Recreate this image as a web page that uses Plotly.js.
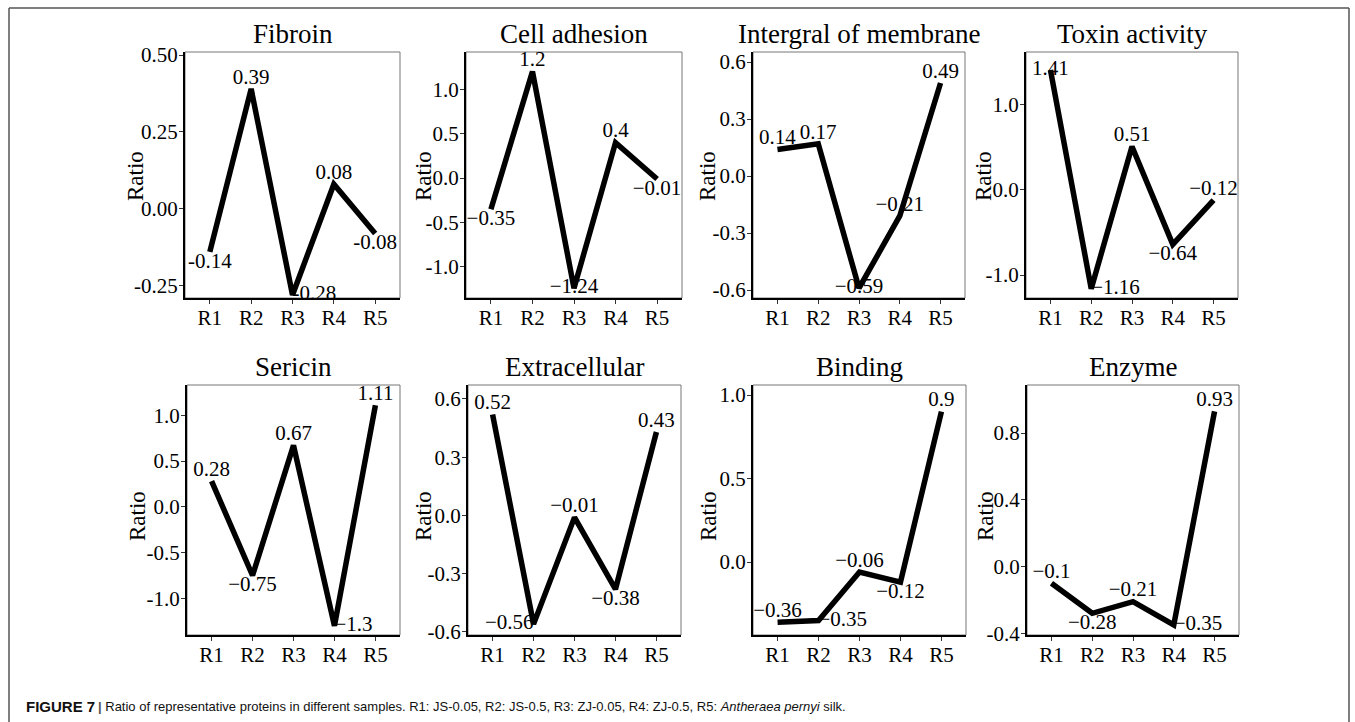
<!DOCTYPE html>
<html>
<head>
<meta charset="utf-8">
<script src="https://cdn.plot.ly/plotly-3.0.1.min.js"></script>
<style>html,body{margin:0;padding:0;background:#fff;}#chart{width:1355px;height:722px;}</style>
</head>
<body>
<div id="chart"></div>
<script>
// ---- data ----
const categories = ['R1', 'R2', 'R3', 'R4', 'R5'];
const panelTitles = ['Fibroin', 'Cell adhesion', 'Intergral of membrane', 'Toxin activity',
                     'Sericin', 'Extracellular', 'Binding', 'Enzyme'];
const fibroin          = [-0.14, 0.39, -0.28, 0.08, -0.08];
const cellAdhesion     = [-0.35, 1.2, -1.24, 0.4, -0.01];
const integralMembrane = [0.14, 0.17, -0.59, -0.21, 0.49];
const toxinActivity    = [1.41, -1.16, 0.51, -0.64, -0.12];
const sericin          = [0.28, -0.75, 0.67, -1.3, 1.11];
const extracellular    = [0.52, -0.56, -0.01, -0.38, 0.43];
const binding          = [-0.36, -0.35, -0.06, -0.12, 0.9];
const enzyme           = [-0.1, -0.28, -0.21, -0.35, 0.93];

const tickVals = [
  [0.5, 0.25, 0, -0.25],
  [1, 0.5, 0, -0.5, -1],
  [0.6, 0.3, 0, -0.3, -0.6],
  [1, 0, -1],
  [1, 0.5, 0, -0.5, -1],
  [0.6, 0.3, 0, -0.3, -0.6],
  [1, 0.5, 0],
  [0.8, 0.4, 0, -0.4]
];
const tickTexts = [
  ['0.50', '0.25', '0.00', '-0.25'],
  ['1.0', '0.5', '0.0', '-0.5', '-1.0'],
  ['0.6', '0.3', '0.0', '-0.3', '-0.6'],
  ['1.0', '0.0', '-1.0'],
  ['1.0', '0.5', '0.0', '-0.5', '-1.0'],
  ['0.6', '0.3', '0.0', '-0.3', '-0.6'],
  ['1.0', '0.5', '0.0'],
  ['0.8', '0.4', '0.0', '-0.4']
];
const series = [fibroin, cellAdhesion, integralMembrane, toxinActivity,
                sericin, extracellular, binding, enzyme];

// ---- layout / style (pixels) ----
const W = 1355, H = 722;
const px = v => v / W;
const py = v => 1 - v / H;
const boxes = [ // [left, right, top, bottom]
  [185, 400, 52, 298], [466, 682, 52, 298], [753, 965, 52, 298], [1026, 1238, 52, 298],
  [187, 400, 385, 635], [468, 681, 385, 635], [753, 966, 385, 635], [1027, 1239, 385, 635]
];
const yRanges = [
  [-0.29, 0.51], [-1.35, 1.42], [-0.642, 0.653], [-1.27, 1.62],
  [-1.40, 1.33], [-0.616, 0.672], [-0.437, 1.06], [-0.41, 1.088]
];
const labelPos = [
  ['bottom center', 'top center', 'middle right', 'top center', 'bottom center'],
  ['bottom center', 'top center', 'middle center', 'top center', 'bottom center'],
  ['top center', 'top center', 'middle center', 'top center', 'top center'],
  ['middle center', 'middle right', 'top center', 'bottom center', 'top center'],
  ['top center', 'bottom center', 'top center', 'middle right', 'top center'],
  ['top center', 'middle left', 'top center', 'bottom center', 'top center'],
  ['top center', 'middle right', 'top center', 'bottom center', 'top center'],
  ['top center', 'bottom center', 'top center', 'middle right', 'top center']
];
const ratioPos = [[135, 176], [423, 176], [707, 176], [983, 176],
                  [137, 516], [423, 516], [708, 516], [985, 516]];
const titleY = [34, 34, 34, 34, 367, 367, 367, 367];

const SERIF = 'Liberation Serif';
const traces = [];
const layout = {
  width: W, height: H,
  margin: {l: 0, r: 0, t: 0, b: 0},
  paper_bgcolor: '#fff', plot_bgcolor: '#fff',
  showlegend: false,
  font: {family: SERIF, size: 21, color: '#000'},
  annotations: [], shapes: []
};

series.forEach((vals, i) => {
  const n = i + 1;
  const xa = n === 1 ? 'x' : 'x' + n;
  const ya = n === 1 ? 'y' : 'y' + n;
  const labels = vals.map(v => {
    const s = String(v);
    return i === 0 ? s : s.replace('-', '\u2212');
  });
  traces.push({
    type: 'scatter', mode: 'lines+text',
    x: categories, y: vals,
    xaxis: xa, yaxis: ya,
    line: {color: '#000', width: 5.5},
    text: labels, textposition: labelPos[i],
    textfont: {family: SERIF, size: 21, color: '#000'},
    cliponaxis: false, hoverinfo: 'skip'
  });
  const b = boxes[i];
  layout['xaxis' + (n === 1 ? '' : n)] = {
    domain: [px(b[0]), px(b[1])], anchor: ya,
    type: 'category', range: [-0.6, 4.6],
    showgrid: false, zeroline: false,
    showline: true, linecolor: '#000', linewidth: 2,
    ticks: 'outside', ticklen: 4, tickwidth: 1, tickcolor: '#333',
    ticklabelstandoff: -4,
    tickfont: {family: SERIF, size: 21, color: '#000'}, fixedrange: true
  };
  layout['yaxis' + (n === 1 ? '' : n)] = {
    domain: [py(b[3]), py(b[2])], anchor: xa,
    range: yRanges[i],
    tickvals: tickVals[i], ticktext: tickTexts[i],
    showgrid: false, zeroline: false,
    showline: true, linecolor: '#000', linewidth: 2,
    ticks: 'outside', ticklen: 4, tickwidth: 1, tickcolor: '#333',
    ticklabelstandoff: -3,
    tickfont: {family: SERIF, size: 21, color: '#000'}, fixedrange: true
  };
  layout.shapes.push({
    type: 'rect', xref: 'paper', yref: 'paper', layer: 'below',
    x0: px(b[0]), x1: px(b[1]), y0: py(b[3]), y1: py(b[2]),
    line: {color: '#777', width: 1}
  });
  layout.annotations.push({
    xref: 'paper', yref: 'paper', x: px((b[0] + b[1]) / 2), y: py(titleY[i]),
    xanchor: 'center', yanchor: 'middle', showarrow: false,
    text: panelTitles[i], font: {family: SERIF, size: 27, color: '#000'}
  });
  layout.annotations.push({
    xref: 'paper', yref: 'paper', x: px(ratioPos[i][0]), y: py(ratioPos[i][1]),
    xanchor: 'center', yanchor: 'middle', showarrow: false, textangle: -90,
    text: 'Ratio', font: {family: SERIF, size: 23, color: '#000'}
  });
});

// figure frame
[[9, 722, 9, 8], [9, 8, 1349, 8], [1349, 8, 1349, 722]].forEach(s => {
  layout.shapes.push({
    type: 'line', xref: 'paper', yref: 'paper',
    x0: px(s[0]), y0: py(s[1]), x1: px(s[2]), y1: py(s[3]),
    line: {color: '#555', width: 1.5}
  });
});

// caption
layout.annotations.push({
  xref: 'paper', yref: 'paper', x: px(24), y: py(706),
  xanchor: 'left', yanchor: 'middle', showarrow: false,
  text: '<b>FIGURE 7</b>',
  font: {family: 'Liberation Sans', size: 15, color: '#111'}
});
layout.annotations.push({
  xref: 'paper', yref: 'paper', x: px(96), y: py(706),
  xanchor: 'left', yanchor: 'middle', showarrow: false,
  text: '<b><span style="color:#555">|</span></b> Ratio of representative proteins in different samples. R1: JS-0.05, R2: JS-0.5, R3: ZJ-0.05, R4: ZJ-0.5, R5: <i>Antheraea pernyi</i> silk.',
  font: {family: 'Liberation Sans', size: 13, color: '#111'}
});

Plotly.newPlot('chart', traces, layout, {displayModeBar: false, staticPlot: true});
</script>
</body>
</html>
